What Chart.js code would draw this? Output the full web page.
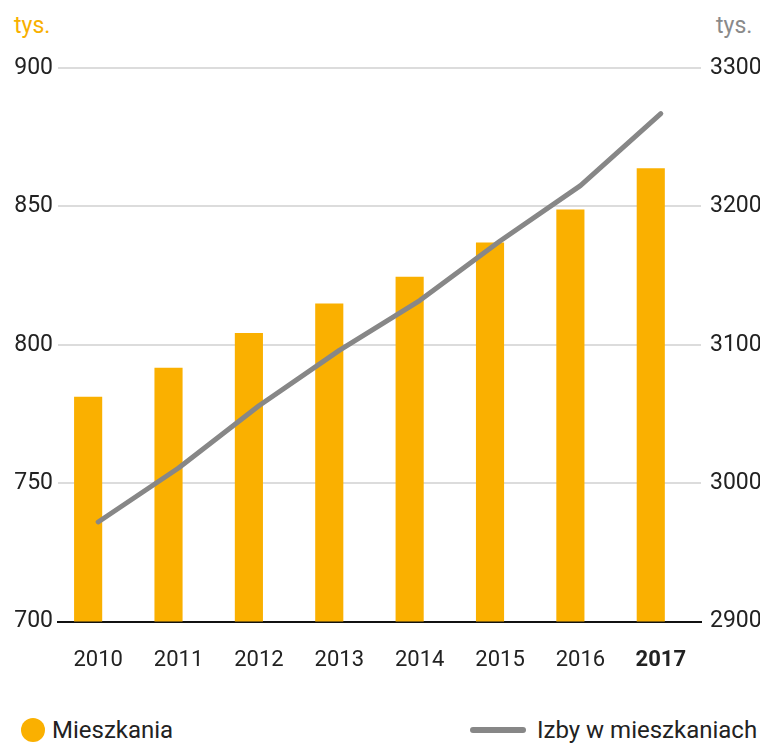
<!DOCTYPE html>
<html lang="pl">
<head>
<meta charset="utf-8">
<script src="https://cdn.jsdelivr.net/npm/chart.js@4/dist/chart.umd.min.js"></script>
<style>
    html, body { margin: 0; padding: 0; background: #fff; }
    body { width: 760px; height: 749px; position: relative; overflow: hidden; font-family: Roboto, 'Noto Sans', sans-serif; }
    .box { position: absolute; left: 0; top: 0; width: 760px; height: 702px; }
    .unit { position: absolute; top: 12px; font-size: 23px; }
    .unit.left { left: 14px; color: #f8b000; }
    .unit.right { left: 716px; color: #8a8a8a; }
    .legend { position: absolute; top: 716px; font-size: 24px; color: #222; display: flex; align-items: center; }
    .legend .dot { width: 24px; height: 24px; border-radius: 50%; background: #fab000; margin-right: 7px; }
    .legend .dash { width: 56px; height: 6px; border-radius: 3px; background: #878787; margin-right: 11px; }
</style>
</head>
<body>
<div class="unit left">tys.</div>
<div class="unit right">tys.</div>
<div class="box"><canvas id="chart"></canvas></div>
<div class="legend" style="left: 21px;"><span class="dot"></span>Mieszkania</div>
<div class="legend" style="left: 470px;"><span class="dash"></span>Izby w mieszkaniach</div>

<script>
const years = ['2010', '2011', '2012', '2013', '2014', '2015', '2016', '2017'];
// tys. mieszkań (lewa oś)
const mieszkania = [781.2, 791.7, 804.3, 814.9, 824.6, 837.0, 848.9, 863.8];
// tys. izb (prawa oś)
const izby = [2972, 3011, 3056, 3096, 3132, 3175, 3215, 3267];
const leftTicks = [700, 750, 800, 850, 900];
const rightTicks = [2900, 3000, 3100, 3200, 3300];

const ORANGE = '#fab000';
const GREY = '#878787';
const FONT = 'Roboto, "Noto Sans", sans-serif';

new Chart(document.getElementById('chart'), {
    data: {
        labels: years,
        datasets: [
            {
                type: 'line',
                label: 'Izby w mieszkaniach',
                data: izby,
                yAxisID: 'yR',
                borderColor: GREY,
                borderWidth: 5,
                borderCapStyle: 'round',
                borderJoinStyle: 'round',
                pointRadius: 0,
                tension: 0,
                order: 0,
            },
            {
                type: 'bar',
                label: 'Mieszkania',
                data: mieszkania,
                yAxisID: 'y',
                backgroundColor: ORANGE,
                categoryPercentage: 0.5,
                barPercentage: 1.4,
                order: 1,
            },
            {
                // pusty slot, przesuwa słupki w lewo jak w oryginale
                type: 'bar',
                label: '',
                data: years.map(() => null),
                yAxisID: 'y',
                categoryPercentage: 0.5,
                barPercentage: 1.4,
                order: 2,
            },
        ],
    },
    options: {
        responsive: true,
        maintainAspectRatio: false,
        animation: false,
        layout: { padding: { top: 68, bottom: 2 } },
        plugins: {
            legend: { display: false },
            tooltip: { enabled: false },
        },
        scales: {
            x: {
                grid: { display: false, drawTicks: false },
                border: { color: '#111', width: 2 },
                ticks: {
                    color: '#222',
                    padding: 26,
                    font: (ctx) => ({
                        family: FONT,
                        size: 22,
                        weight: ctx.index === years.length - 1 ? 'bold' : 'normal',
                    }),
                },
            },
            y: {
                position: 'left',
                min: 700,
                max: 900,
                afterBuildTicks: (s) => { s.ticks = leftTicks.map((v) => ({ value: v })); },
                afterFit: (s) => { s.width = 58; },
                grid: { color: '#dcdcdc', lineWidth: 2, drawTicks: false },
                border: { display: false },
                ticks: { color: '#222', padding: 5, font: { family: FONT, size: 23 } },
            },
            yR: {
                position: 'right',
                min: 2900,
                max: 3300,
                afterBuildTicks: (s) => { s.ticks = rightTicks.map((v) => ({ value: v })); },
                afterFit: (s) => { s.width = 59; },
                grid: { display: false, drawTicks: false },
                border: { display: false },
                ticks: {
                    color: '#222',
                    padding: 9,
                    font: { family: FONT, size: 23 },
                    callback: (v) => String(v),
                },
            },
        },
    },
});
</script>
</body>
</html>
